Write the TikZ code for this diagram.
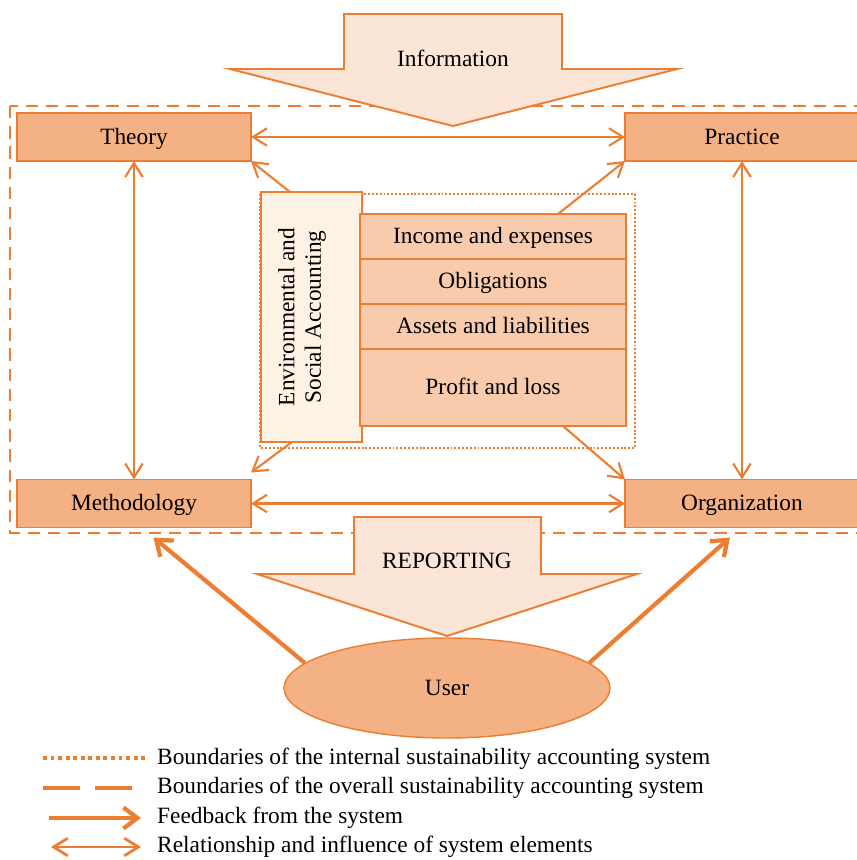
\documentclass[tikz,border=0pt]{standalone}
\usepackage{fontspec}
\setmainfont{Liberation Serif}
\usetikzlibrary{positioning,arrows.meta,shapes.geometric}

\definecolor{accent}{HTML}{ED7D31}
\definecolor{boxfill}{HTML}{F4B183}
\definecolor{rowfill}{HTML}{F8CBAD}
\definecolor{flowfill}{HTML}{FBE5D6}
\definecolor{esafill}{HTML}{FEF2E4}

\begin{document}
\begin{tikzpicture}
      [ x=0.02cm, y=-0.02cm,
        font=\fontsize{13.3pt}{15pt}\selectfont,
        block/.style={draw=accent, fill=boxfill, line width=1.1pt, inner sep=0pt,
                      outer sep=0pt, minimum width=4.68cm, minimum height=0.96cm,
                      text height=11pt, text depth=3pt},
        row/.style={draw=accent, fill=rowfill, line width=1.1pt, inner sep=0pt,
                    outer sep=0pt, minimum width=5.32cm, minimum height=0.9cm,
                    text height=11pt, text depth=3pt},
        flow/.style={draw=accent, fill=flowfill, line width=1.1pt},
        rel/.style={draw=accent, line width=1.2pt,
                    {Straight Barb[length=8pt,width=10pt]}-{Straight Barb[length=8pt,width=10pt]}},
        feed/.style={draw=accent, line width=1.2pt, -{Straight Barb[length=8pt,width=10pt]}},
        back/.style={draw=accent, line width=2.4pt, -{Straight Barb[length=8pt,width=12pt]}},
        overall/.style={draw=accent, line width=1.1pt, dash pattern=on 7pt off 4.5pt},
        internal/.style={draw=accent, line width=0.9pt, dash pattern=on 1.1pt off 1.1pt}
      ]
      \useasboundingbox (0,0) rectangle (857,860);

      % system boundaries
      \draw[overall]  (10,106) rectangle (880,533);
      \draw[internal] (260,194) rectangle (635,448);

      % information flowing in
      \path[flow] (344,14) -- (562,14) -- (562,69) -- (677,69) -- (453,126)
                  -- (230,69) -- (344,69) -- cycle;
      \node (info) at (453,58) {Information};

      % four elements
      \node[block] (theory)   at (134,137)   {Theory};
      \node[block] (practice) at (742,137)   {Practice};
      \node[block] (method)   at (134,503.5) {Methodology};
      \node[block] (org)      at (742,503.5) {Organization};

      % accounting core
      \node[draw=accent, fill=esafill, line width=1.1pt, inner sep=0pt, outer sep=0pt,
            minimum width=2.02cm, minimum height=5cm] (esa) at (311.5,317) {};
      \node[rotate=90, align=center] (esatext) at (302,317)
            {Environmental and\\Social Accounting};
      \node[row]                      (income) at (493,236.5) {Income and expenses};
      \node[row]                      (oblig)  [below=0pt of income] {Obligations};
      \node[row]                      (assets) [below=0pt of oblig]  {Assets and liabilities};
      \node[row, minimum height=1.54cm] (profit) [below=0pt of assets] {Profit and loss};

      % relationships
      \path (theory)   edge[rel] (practice)
            (method)   edge[rel] (org)
            (theory)   edge[rel] (method)
            (practice) edge[rel] (org);

      \path ([xshift=0.58cm]esa.north west)    edge[feed] (theory.south east)
            ([xshift=3.96cm]income.north west) edge[feed] (practice.south west)
            ([xshift=0.62cm]esa.south west)    edge[feed] ([yshift=0.14cm]method.north east)
            ([xshift=4.06cm]profit.south west) edge[feed] (org.north west);

      % reporting flowing out
      \path[flow] (354,517) -- (541,517) -- (541,574) -- (637,574) -- (447,636)
                  -- (257,574) -- (354,574) -- cycle;
      \node (report) at (447,561) {REPORTING};

      \node[ellipse, draw=accent, fill=boxfill, line width=0.8pt, inner sep=0pt,
            minimum width=6.52cm, minimum height=2cm] (user) at (447,688) {User};

      \path (user.170) edge[back] ([xshift=0.39cm,yshift=-0.2cm]method.south)
            (user.10)  edge[back] ([xshift=-0.24cm,yshift=-0.2cm]org.south);

      % legend
      \node[anchor=west] (lg1) at (151,759) {Boundaries of the internal sustainability accounting system};
      \node[anchor=west] (lg2) at (151,788) {Boundaries of the overall sustainability accounting system};
      \node[anchor=west] (lg3) at (151,818) {Feedback from the system};
      \node[anchor=west] (lg4) at (151,847) {Relationship and influence of system elements};

      \draw[accent, line width=2.3pt, dash pattern=on 2.2pt off 2.1pt] (43,758) -- (145,758);
      \draw[accent, line width=2.8pt, dash pattern=on 21pt off 8.5pt] (43,788) -- (133,788);
      \draw[back] (49,818) -- (141,818);
      \draw[rel, line width=1.6pt] (51,847) -- (141,847);
\end{tikzpicture}
\end{document}
